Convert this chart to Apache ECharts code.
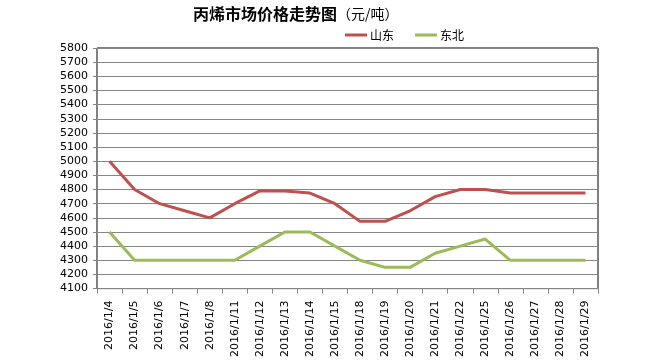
<!DOCTYPE html>
<html>
<head>
<meta charset="utf-8">
<script src="https://cdn.jsdelivr.net/npm/echarts@6/dist/echarts.min.js"></script>
<style>html,body{margin:0;padding:0;background:#fff;}#c{width:650px;height:360px;}</style>
</head>
<body>
<div id="c"></div>
<script>
const categories = ['2016/1/4','2016/1/5','2016/1/6','2016/1/7','2016/1/8','2016/1/11','2016/1/12','2016/1/13','2016/1/14','2016/1/15','2016/1/18','2016/1/19','2016/1/20','2016/1/21','2016/1/22','2016/1/25','2016/1/26','2016/1/27','2016/1/28','2016/1/29'];
const shandong = [5000,4800,4700,4650,4600,4700,4790,4790,4775,4700,4575,4575,4650,4750,4800,4800,4775,4775,4775,4775];
const dongbei = [4500,4300,4300,4300,4300,4300,4400,4500,4500,4400,4300,4250,4250,4350,4400,4450,4300,4300,4300,4300];
const seriesNames = ['山东','东北'];
const yMin = 4100, yMax = 5800, yStep = 100;

const chart = echarts.init(document.getElementById('c'), null, {renderer:'canvas'});
chart.setOption({
  animation: false,
  backgroundColor: '#fff',
  title: {
    text: '{b|丙烯市场价格走势图}{n|（元/吨）}',
    left: 188, top: 1,
    textStyle: {
      rich: {
        b: {fontFamily: 'Noto Sans CJK SC', fontWeight: 'bold', fontSize: 16, color: '#000'},
        n: {fontFamily: 'Noto Sans CJK SC', fontWeight: 'normal', fontSize: 14, color: '#000'}
      }
    }
  },
  legend: {
    data: seriesNames,
    left: 340, top: 24,
    icon: 'rect', itemWidth: 22, itemHeight: 3, itemGap: 21,
    textStyle: {fontFamily: 'Noto Sans CJK SC', fontSize: 12, color: '#000', padding: [0,0,0,-2]}
  },
  grid: {left: 97, right: 52, top: 48, bottom: 71, show: true, borderColor: '#000', borderWidth: 1, containLabel: false},
  xAxis: {
    type: 'category', data: categories, boundaryGap: true,
    axisLine: {lineStyle: {color: '#868686', width: 1}},
    axisTick: {show: true, inside: false, length: 5, alignWithLabel: false, lineStyle: {color: '#868686'}},
    axisLabel: {rotate: 90, interval: 0, margin: 12, fontFamily: 'DejaVu Sans', fontSize: 11, color: '#000'},
    splitLine: {show: false}
  },
  yAxis: {
    type: 'value', min: yMin, max: yMax, interval: yStep,
    axisLine: {show: true, lineStyle: {color: '#868686', width: 1}},
    axisTick: {show: true, length: 4, lineStyle: {color: '#868686'}},
    axisLabel: {margin: 9, fontFamily: 'DejaVu Sans', fontSize: 11, color: '#000', formatter: v => String(v)},
    splitLine: {show: true, lineStyle: {color: '#868686', width: 1}}
  },
  series: [
    {name: seriesNames[0], type: 'line', data: shandong, symbol: 'none', lineStyle: {color: '#C0504D', width: 3}, itemStyle: {color: '#C0504D'}},
    {name: seriesNames[1], type: 'line', data: dongbei, symbol: 'none', lineStyle: {color: '#9BBB59', width: 3}, itemStyle: {color: '#9BBB59'}}
  ]
});
</script>
</body>
</html>
